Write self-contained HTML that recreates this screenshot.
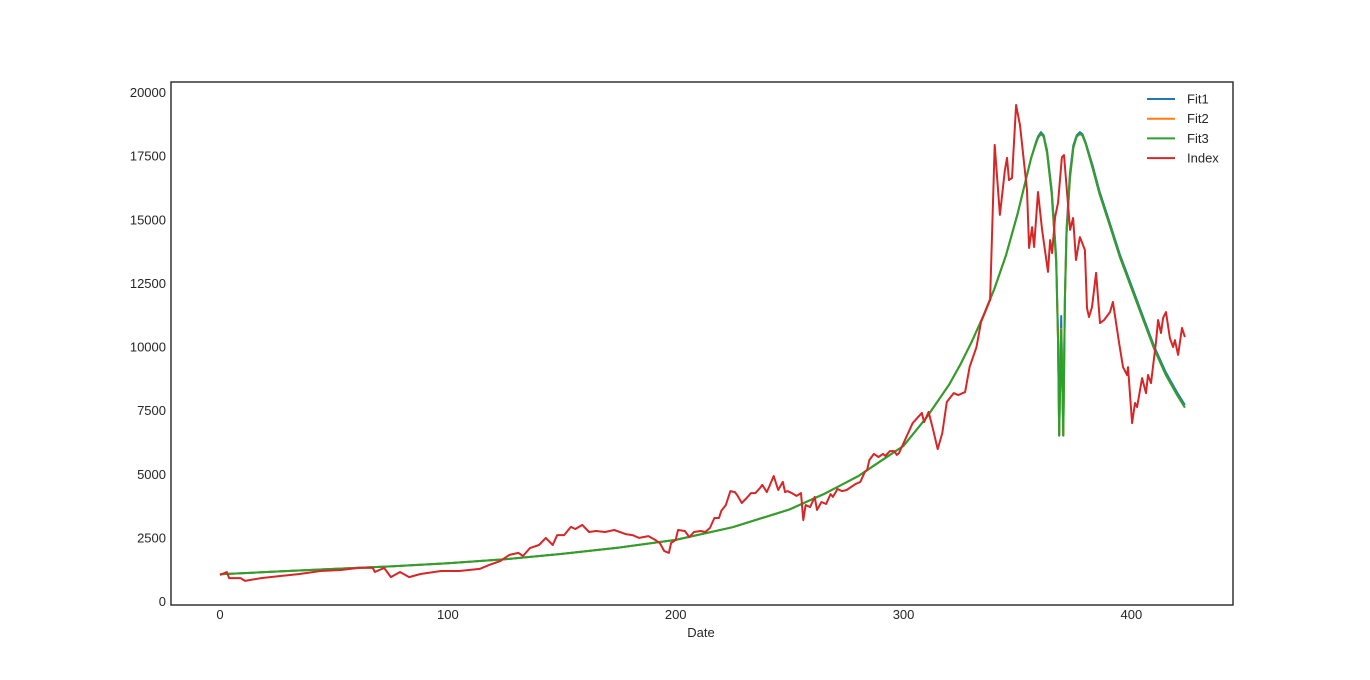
<!DOCTYPE html>
<html><head><meta charset="utf-8"><style>
html,body{margin:0;padding:0;background:#fff;}
svg{display:block;font-family:"Liberation Sans",Arial,sans-serif;}
</style></head><body>
<svg id="chart" width="1370" height="680">
<rect x="0" y="0" width="1370" height="680" fill="#fff"/>
<g id="series"></g>
<rect x="171" y="82" width="1062" height="523" fill="none" stroke="#262626" stroke-width="1.4"/>
<g id="axes"></g>
<text x="701" y="637" font-size="13" fill="#262626" text-anchor="middle">Date</text>
<g id="legend"></g>
</svg>
<script>
const xTicks = [0,100,200,300,400];
const yTicks = [0,2500,5000,7500,10000,12500,15000,17500,20000];
const indexX = [0,3,4,9,11,18,26,35,44,53,61,67,68,72,75,79,83,88,97,105,114,118,123,127,131,133,136,140,143,146,148,151,154,156,159,162,165,169,173,178,181,184,188,191,193,195,197,198,200,201,204,206,208,211,213,215,217,219,220,222,224,226,227,229,232,233,235,237,238,240,241,243,245,247,248,249,251,253,255,256,257,259,261,262,264,266,268,269,271,273,275,277,279,281,283,284,285,287,289,291,292,294,296,297,298,304,308,309,311,313,315,317,319,322,324,327,329,332,334,338,340,342.3,344.5,345.4,346.3,347.6,349.4,351.1,354.2,355.1,356.4,357.3,359.0,360.8,363.4,364.3,365.2,366.5,367.8,369.5,370.4,373.1,374.4,375.7,377.4,379.6,380.5,381.4,382.7,384.5,386.2,388.0,390.6,391.9,394.6,396.3,398.1,398.5,400.3,401.6,402.5,404.7,406.4,407.3,408.6,410.8,411.7,413.0,413.9,415.2,416.9,418.3,419.1,420.5,422.2,423.5];
const indexY = [1020,1140,900,900,790,900,980,1060,1180,1220,1300,1300,1140,1300,940,1140,940,1060,1180,1180,1260,1410,1570,1810,1890,1770,2080,2200,2480,2200,2590,2590,2910,2830,2990,2710,2750,2710,2790,2630,2590,2480,2550,2400,2280,1960,1890,2280,2400,2790,2750,2510,2710,2750,2710,2870,3260,3260,3540,3770,4320,4280,4160,3850,4130,4240,4240,4440,4560,4280,4480,4910,4360,4680,4280,4320,4240,4130,4240,3180,3770,3690,4090,3580,3890,3810,4200,4090,4400,4320,4360,4480,4600,4680,5070,5150,5540,5780,5660,5780,5700,5890,5890,5740,5810,6990,7390,7030,7430,6720,5970,6600,7820,8170,8090,8210,9190,9980,10960,11830,17920,15170,16930,17410,16540,16620,19490,18690,16150,13870,14690,13910,16070,14580,12930,14180,13670,15090,15640,17440,17520,14580,15050,13400,14300,13790,11510,11160,11550,12890,10920,11040,11350,11750,10140,9190,8880,9190,6990,7780,7620,8760,8170,8880,8560,10180,11040,10530,11120,11350,10330,9980,10250,9670,10730,10370];
const fitX = [0,25,50,75,100,125,150,175,200,225,250,265,280,290,300,310,320,325,330,335,340,345,350,353,356,358,359,360.3,361.5,363,365,366,367,367.8,368.3,369.2,370.1,370.8,371.5,373,374.5,376,377.4,378.5,380,383,386,390,395,400,405,410,415,420,423.5];
const fit1Y = [1050,1160,1260,1360,1480,1640,1850,2100,2400,2900,3600,4200,4900,5500,6100,7200,8500,9300,10200,11200,12300,13600,15200,16300,17400,18000,18250,18420,18300,17700,16150,14900,13500,10500,6500,11200,6500,12000,14600,16800,17900,18300,18420,18350,18000,17100,16100,15000,13600,12400,11200,10000,9000,8200,7700];
const fit2Y = [1050,1160,1260,1360,1480,1640,1850,2100,2400,2900,3600,4200,4900,5500,6100,7200,8500,9300,10200,11200,12300,13600,15200,16300,17400,17950,18200,18350,18250,17600,16000,14700,13300,10300,6500,10700,6500,11800,14400,16600,17800,18250,18350,18300,17950,17000,16000,14900,13500,12300,11100,9900,8900,8100,7600];
const fit3Y = [1050,1160,1260,1360,1480,1640,1850,2100,2400,2900,3600,4200,4900,5500,6100,7200,8500,9300,10200,11200,12300,13600,15200,16300,17400,17950,18200,18350,18250,17600,16000,14700,13300,10300,6500,10650,6500,11800,14400,16600,17800,18250,18350,18300,17950,17000,16000,14900,13500,12300,11100,9900,8900,8100,7600];
const NS='http://www.w3.org/2000/svg';
function xs(v){return 220+v*2.2785;}
function ys(v){return 601-v*0.02545;}
function mk(tag,attrs,parent){const e=document.createElementNS(NS,tag);for(const k in attrs)e.setAttribute(k,attrs[k]);parent.appendChild(e);return e;}
const axes=document.getElementById('axes');
xTicks.forEach(t=>{const e=mk('text',{x:xs(t),y:619,'font-size':13,fill:'#262626','text-anchor':'middle'},axes);e.textContent=t;

});
yTicks.forEach(t=>{const e=mk('text',{x:166,y:ys(t)+5,'font-size':13,fill:'#262626','text-anchor':'end'},axes);e.textContent=t;

});
const series=document.getElementById('series');
function line(X,Y,color,name){const d=X.map((x,i)=>(i?'L':'M')+xs(x).toFixed(1)+','+ys(Y[i]).toFixed(1)).join('');
const p=mk('path',{d:d,fill:'none',stroke:color,'stroke-width':2,'stroke-linejoin':'round'},series);

}
line(fitX,fit1Y,'#1f77b4','fit1-line');
line(fitX,fit2Y,'#ff7f0e','fit2-line');
line(fitX,fit3Y,'#2ca02c','fit3-line');
line(indexX,indexY,'#d62728','index-line');
const legend=document.getElementById('legend');
[['Fit1','#1f77b4'],['Fit2','#ff7f0e'],['Fit3','#2ca02c'],['Index','#d62728']].forEach((it,i)=>{
const g=mk('g',{},legend);


const y=99+i*19.7;
mk('line',{x1:1147,x2:1175,y1:y,y2:y,stroke:it[1],'stroke-width':2},g);
const t=mk('text',{x:1187,y:y+4.5,'font-size':13,fill:'#262626'},g);t.textContent=it[0];});
</script>
</body></html>
